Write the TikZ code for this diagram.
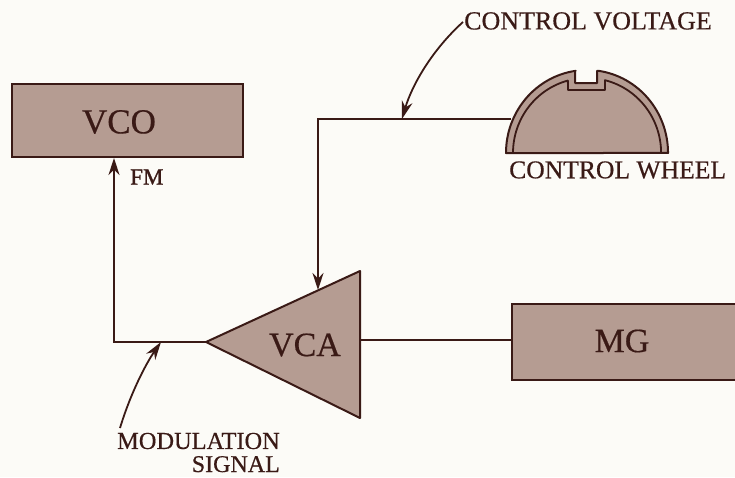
\documentclass[tikz,border=0pt]{standalone}
\usepackage{fontspec}
\setmainfont{Liberation Serif}
\newfontfamily\widefont[FakeBold=0.5]{Liberation Serif}
\newfontfamily\heavyfont[FakeBold=1.2]{Liberation Serif}
\usetikzlibrary{arrows.meta,positioning}
\definecolor{ink}{HTML}{3A1A16}
\definecolor{tan}{HTML}{B59C92}
\definecolor{paper}{HTML}{FCFBF7}
\tikzset{
  x=1pt,y=-1pt,
  block/.style={draw=ink,fill=tan,line width=2pt,inner sep=0pt},
  wire/.style={draw=ink,line width=1.6pt},
  sig/.style={wire,-{Stealth[length=17pt,width=11pt]}},
  lead/.style={draw=ink,line width=1.8pt,-{Stealth[length=18pt,width=11pt]}},
  big/.style={text=ink,font=\widefont\fontsize{34}{34}\selectfont,inner sep=0pt},
  lbl/.style={text=ink,font=\widefont\fontsize{24.4}{24.4}\selectfont,inner sep=0pt},
}
\begin{document}
\begin{tikzpicture}
\path[fill=paper] (0,0) rectangle (735,477);
\useasboundingbox (0,0) rectangle (735,477);
% blocks
\node[block,minimum width=231pt,minimum height=73pt] (vco) at (127.5,120.5) {};
\node[big,font=\widefont\fontsize{35}{35}\selectfont] (vcotxt) at (119,122) {VCO};
\node[block,minimum width=226pt,minimum height=76pt,anchor=west] (mg) at (511,342) {};
\node[big] (mgtxt) at (622,341) {MG};
% VCA triangle
\coordinate (vcatip) at (206,342);
\coordinate (vcaback) at (360,340);
\coordinate (vcatop) at (318,290);
\path[block,line join=round] (vcatip) -- (360,271) -- (360,418) -- cycle;
\node[big] (vcatxt) at (305,345) {VCA};
% wheel
\path[fill=tan,draw=ink,line width=2pt,line join=round]
  (506,153) arc[start angle=180,end angle=262,x radius=81,y radius=83] -- (575,71) -- (575,83) -- (597,83) -- (597,71) -- (598.3,70.8)
  arc[start angle=-82,end angle=0,x radius=81,y radius=83] -- cycle;
\draw[ink,line width=1.8pt,line join=round]
  (513,153) arc[start angle=180,end angle=255,x radius=74,y radius=75] -- (568,90) -- (605,90) -- (605,80.2)
  arc[start angle=-76,end angle=0,x radius=74,y radius=75];
\coordinate (wheel) at (511,119);
\coordinate (corner) at (318,119);
\coordinate (cvfoot) at (402,119);
\coordinate (msfoot) at (161,342);
\coordinate (vcoleft) at (114,342);
% connectors
\draw[sig] (wheel) -- (corner) -- (vcatop);
\draw[sig] (vcatip) -- (vcoleft) -- (vcoleft |- vco.south);
\draw[wire] (vcaback) -- (mg.west |- vcaback);
% labels
\node[lbl,font=\heavyfont\fontsize{23}{23}\selectfont,anchor=west] (fm) at (130,177) {FM};
\node[lbl,anchor=west,font=\widefont\fontsize{26}{26}\selectfont] (cv) at (464,21) {CONTROL VOLTAGE};
\node[lbl,anchor=west,font=\widefont\fontsize{25.6}{25.6}\selectfont] (cw) at (509,170) {CONTROL WHEEL};
\node[lbl,anchor=east] (mod) at (280,441) {MODULATION};
\node[lbl,anchor=base east,text depth=0pt,font=\widefont\fontsize{24}{24}\selectfont] (sgn) at (280,472) {SIGNAL};
% leaders
\coordinate (cvstart) at (463,22);
\coordinate (msstart) at (120,428);
\draw[lead] (cvstart) .. controls (432,50) and (412,85) .. (cvfoot);
\draw[lead] (msstart) .. controls (130,395) and (145,365) .. (msfoot);
\end{tikzpicture}
\end{document}
